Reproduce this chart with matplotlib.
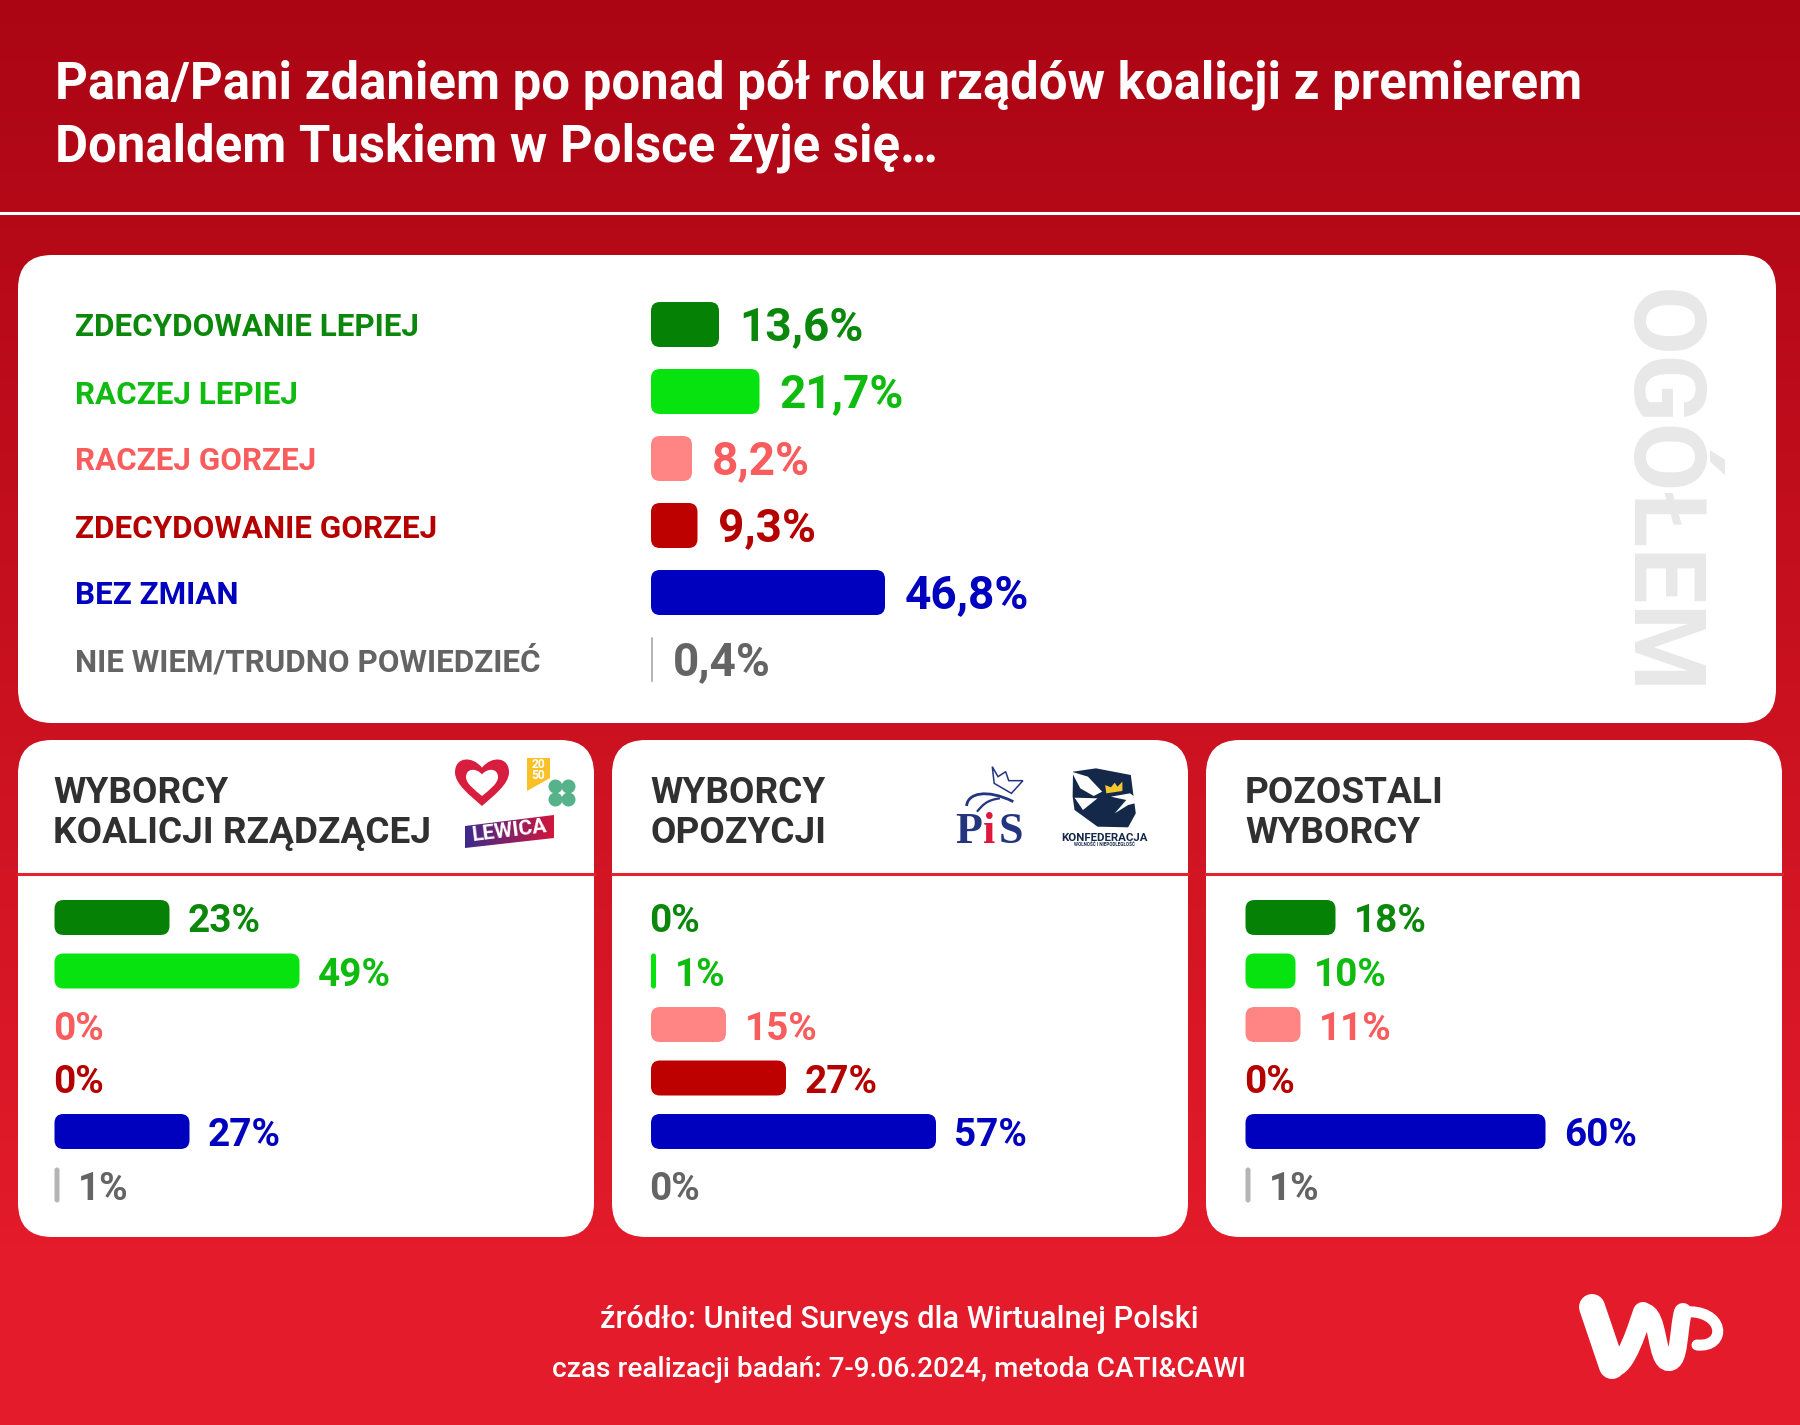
import numpy as np
import matplotlib
matplotlib.use("Agg")
import matplotlib.pyplot as plt
from matplotlib.patches import FancyBboxPatch, Polygon, Circle, PathPatch
from matplotlib.path import Path
from matplotlib.colors import LinearSegmentedColormap

# === Data ===
categories = ["ZDECYDOWANIE LEPIEJ", "RACZEJ LEPIEJ", "RACZEJ GORZEJ",
              "ZDECYDOWANIE GORZEJ", "BEZ ZMIAN", "NIE WIEM/TRUDNO POWIEDZIEĆ"]
overall_values = [13.6, 21.7, 8.2, 9.3, 46.8, 0.4]
overall_labels = ["13,6%", "21,7%", "8,2%", "9,3%", "46,8%", "0,4%"]
coalition_values = [23, 49, 0, 0, 27, 1]
opposition_values = [0, 1, 15, 27, 57, 0]
other_values = [18, 10, 11, 0, 60, 1]

title_lines = ["Pana/Pani zdaniem po ponad pół roku rządów koalicji z premierem",
               "Donaldem Tuskiem w Polsce żyje się…"]
coalition_title = "WYBORCY\nKOALICJI RZĄDZĄCEJ"
opposition_title = "WYBORCY\nOPOZYCJI"
other_title = "POZOSTALI\nWYBORCY"
source_line = "źródło: United Surveys dla Wirtualnej Polski"
method_line = "czas realizacji badań: 7-9.06.2024, metoda CATI&CAWI"

# === Colours ===
bar_colors = ["#058205", "#07e30f", "#ff8484", "#bd0000", "#0000bf", "#b5b5b5"]
text_colors = ["#0b870b", "#10bb10", "#f85c5c", "#b50000", "#0000bf", "#646464"]

W, H = 1800, 1425
PX = 0.72  # font points per pixel at dpi 100
PX_PER_PCT = 5.0

plt.rcParams["font.family"] = ["Roboto", "DejaVu Sans"]

fig = plt.figure(figsize=(W / 100, H / 100), dpi=100)

# Background layer in image pixels
bg = fig.add_axes([0, 0, 1, 1])
bg.axis("off")
red_map = LinearSegmentedColormap.from_list("red", ["#ab0514", "#e31b2a"])
bg.imshow(np.linspace(0, 1, 256).reshape(-1, 1), cmap=red_map, aspect="auto",
          extent=[0, W, 1250, 0], zorder=0)
bg.fill_between([0, W], 1249, H, color="#e31b2a", lw=0, zorder=0)
bg.set_xlim(0, W)
bg.set_ylim(H, 0)
bg.plot([0, W], [213, 213], color="white", lw=2.2, zorder=1)

for line, y in zip(title_lines, [98, 161]):
    bg.text(55, y, line, color="white", fontsize=50.9 * PX, fontweight="bold", va="baseline")


def panel(x0, y0, x1, y1):
    bg.add_patch(FancyBboxPatch((x0, y0), x1 - x0, y1 - y0,
                                boxstyle="round,pad=0,rounding_size=34",
                                fc="white", ec="none", zorder=2))


panel(18, 255, 1776, 723)
panel(18, 740, 594, 1237)
panel(612, 740, 1188, 1237)
panel(1206, 740, 1782, 1237)

for x0, x1 in [(18, 594), (612, 1188), (1206, 1782)]:
    bg.plot([x0, x1], [874, 874], color="#e3242f", lw=2.2, zorder=3)

bg.text(1657, 492.5, "OGÓŁEM", color="#e8e8e8", fontsize=100 * PX, rotation=270,
        fontweight="bold", ha="center", va="center", zorder=3)


def bar_axes(x0, y_first, row_step, width):
    # axes with x in percent and y in row numbers, one row = row_step pixels
    top = y_first - row_step / 2
    height = row_step * 6
    ax = fig.add_axes([x0 / W, 1 - (top + height) / H, width / W, height / H])
    ax.set_xlim(0, width / PX_PER_PCT)
    ax.set_ylim(5.5, -0.5)
    ax.axis("off")
    ax.patch.set_alpha(0)
    return ax


def draw_bars(ax, values, labels, bar_h_px, row_step, radius, gap, font_px, base_px):
    aspect = (1 / row_step) / (1 / PX_PER_PCT)
    bar_h = bar_h_px / row_step
    for i, (v, lab) in enumerate(zip(values, labels)):
        if v > 0:
            r = min(radius, v * PX_PER_PCT / 2) / PX_PER_PCT
            ax.add_patch(FancyBboxPatch((0, i - bar_h / 2), v, bar_h,
                                        boxstyle=f"round,pad=0,rounding_size={r}",
                                        mutation_aspect=aspect, fc=bar_colors[i],
                                        ec="none", clip_on=False))
        x_text = v + gap / PX_PER_PCT if v > 0 else -1.5 / PX_PER_PCT
        ax.text(x_text, i + base_px / row_step, lab, color=text_colors[i],
                fontsize=font_px * PX, fontweight="bold", va="baseline", clip_on=False)


# === Overall chart ===
ax_all = bar_axes(651, 324.5, 67, 740)
draw_bars(ax_all, overall_values, overall_labels, 45, 67, 9, 20, 46, 16)
for i, name in enumerate(categories):
    ax_all.text((75 - 651) / PX_PER_PCT, i + 12 / 67, name, color=text_colors[i],
                fontsize=31.4 * PX, fontweight="bold", va="baseline", clip_on=False)

# === Voter group charts ===
for x0, values in [(54.5, coalition_values), (651, opposition_values), (1245.5, other_values)]:
    ax = bar_axes(x0, 917.5, 53.5, 500)
    draw_bars(ax, values, [f"{v}%" for v in values], 35, 53.5, 9, 18.5, 38.8, 15)

for x0, name in [(53, coalition_title), (650, opposition_title), (1245, other_title)]:
    for line, y in zip(name.split("\n"), [803, 843]):
        bg.text(x0, y, line, color="#303030", fontsize=37 * PX, fontweight="bold",
                va="baseline", zorder=4)


# === Party logos ===
def heart(cx, top, w, h, **kw):
    x, y = cx, top
    verts = [(x, y + h * 0.2),
             (x - w * 0.18, y - h * 0.05), (x - w * 0.5, y - h * 0.03), (x - w * 0.5, y + h * 0.3),
             (x - w * 0.5, y + h * 0.55), (x - w * 0.2, y + h * 0.8), (x, y + h),
             (x + w * 0.2, y + h * 0.8), (x + w * 0.5, y + h * 0.55), (x + w * 0.5, y + h * 0.3),
             (x + w * 0.5, y - h * 0.03), (x + w * 0.18, y - h * 0.05), (x, y + h * 0.2)]
    codes = [Path.MOVETO] + [Path.CURVE4] * 12
    bg.add_patch(PathPatch(Path(verts, codes), ec="none", zorder=4, **kw))


heart(482, 758, 54, 48, fc="#d81e3f")
heart(482, 769, 32, 27, fc="white")

bg.add_patch(Polygon([(527, 758), (550, 758), (550, 778), (527, 791)], fc="#f9c127", ec="none", zorder=4))
bg.text(538, 770, "20\n50", color="white", fontsize=12 * PX, fontweight="bold", ha="center",
        va="center", linespacing=0.8, zorder=5)
for dx, dy in [(-6.5, -6.5), (6.5, -6.5), (-6.5, 6.5), (6.5, 6.5)]:
    bg.add_patch(Circle((562 + dx, 793 + dy), 7, fc="#55b28a", ec="none", zorder=4))

lewica_box = Polygon([(465, 826), (554, 815), (554, 838), (465, 848)], fc="none", ec="none", zorder=4)
bg.add_patch(lewica_box)
lewica_map = LinearSegmentedColormap.from_list("lew", ["#3d2a8c", "#d0163c"])
grad = bg.imshow(np.linspace(0, 1, 64).reshape(1, -1), cmap=lewica_map, aspect="auto",
                 extent=[465, 554, 848, 815], zorder=4)
grad.set_clip_path(lewica_box)
bg.set_xlim(0, W)
bg.set_ylim(H, 0)
bg.text(509, 831, "LEWICA", color="white", fontsize=21 * PX, fontweight="bold", rotation=7,
        ha="center", va="center", zorder=5)

pis_blue = "#24357f"
bg.text(955, 843, "P", color=pis_blue, fontsize=44 * PX, fontweight="bold", va="baseline",
        family="Liberation Serif", zorder=4)
bg.text(983, 843, "i", color="#e0173d", fontsize=44 * PX, fontweight="bold", va="baseline",
        family="Liberation Serif", zorder=4)
bg.text(999, 843, "S", color=pis_blue, fontsize=44 * PX, fontweight="bold", va="baseline",
        family="Liberation Serif", zorder=4)


def zm(pts):
    # points read from a 2.6x/3x crop of the logo row
    return [(600 + x / 2.613, 730 + y / 3) for x, y in pts]


bg.add_patch(Polygon(zm([(1025, 110), (1040, 140), (1060, 125), (1068, 152), (1105, 152),
                         (1075, 190), (1030, 160)]), fc="none", ec=pis_blue, lw=1.1, zorder=4))
bg.add_patch(PathPatch(Path(zm([(958, 228), (960, 190), (1010, 175), (1080, 215)]),
                            [Path.MOVETO, Path.CURVE4, Path.CURVE4, Path.CURVE4]),
                       fc="none", ec=pis_blue, lw=2, zorder=4))
bg.add_patch(PathPatch(Path(zm([(985, 245), (1000, 225), (1010, 210), (1045, 205)]),
                            [Path.MOVETO, Path.CURVE4, Path.CURVE4, Path.CURVE4]),
                       fc="none", ec=pis_blue, lw=1.6, zorder=4))

navy = "#14294a"
bg.add_patch(Polygon(zm([(1236, 125), (1296, 115), (1387, 135), (1400, 250), (1380, 292),
                         (1300, 290), (1240, 240), (1235, 200)]), fc=navy, ec="none", zorder=4))
bg.add_patch(Polygon(zm([(1232, 125), (1275, 140), (1312, 185), (1290, 198), (1255, 175)]),
                     fc="white", ec="none", zorder=5))
bg.add_patch(Polygon(zm([(1240, 203), (1300, 205), (1262, 240)]), fc="white", ec="none", zorder=5))
bg.add_patch(Polygon(zm([(1335, 200), (1385, 190), (1415, 215), (1380, 225), (1345, 250),
                         (1375, 210)]), fc="white", ec="none", zorder=5))
bg.add_patch(Polygon(zm([(1320, 165), (1335, 172), (1345, 158), (1352, 170), (1365, 155),
                         (1365, 183), (1323, 190)]), fc="#f3c730", ec="none", zorder=6))
bg.text(1104.5, 841, "KONFEDERACJA", color=navy, fontsize=11.5 * PX, fontweight="bold",
        ha="center", va="baseline", zorder=4)
bg.text(1104.5, 846, "WOLNOŚĆ I NIEPODLEGŁOŚĆ", color=navy, fontsize=4.5 * PX, fontweight="bold",
        ha="center", va="baseline", zorder=4)

# === Footer ===
bg.text(899, 1328, source_line, color="white", fontsize=30.8 * PX, fontweight="medium",
        ha="center", va="baseline", zorder=4)
bg.text(899, 1377, method_line, color="white", fontsize=28 * PX, fontweight="medium",
        ha="center", va="baseline", zorder=4)

# === WP logo ===
bg.plot([1592, 1612], [1307, 1366], color="white", lw=26 * PX, solid_capstyle="round", zorder=4)
bg.add_patch(PathPatch(Path([(1612, 1366), (1625, 1372), (1640, 1320), (1643, 1312)],
                            [Path.MOVETO, Path.CURVE4, Path.CURVE4, Path.CURVE4]),
                       fc="none", ec="white", lw=20 * PX, capstyle="round", zorder=4))
bg.add_patch(PathPatch(Path([(1643, 1312), (1660, 1312), (1655, 1362), (1669, 1362),
                             (1680, 1362), (1678, 1330), (1683, 1312)],
                            [Path.MOVETO] + [Path.CURVE4] * 6),
                       fc="none", ec="white", lw=18 * PX, capstyle="round", zorder=4))
bg.add_patch(PathPatch(Path([(1683, 1312), (1725, 1308), (1728, 1348), (1697, 1345)],
                            [Path.MOVETO, Path.CURVE4, Path.CURVE4, Path.CURVE4]),
                       fc="none", ec="white", lw=11 * PX, capstyle="round", zorder=4))

fig.savefig("out.png", dpi=100)
